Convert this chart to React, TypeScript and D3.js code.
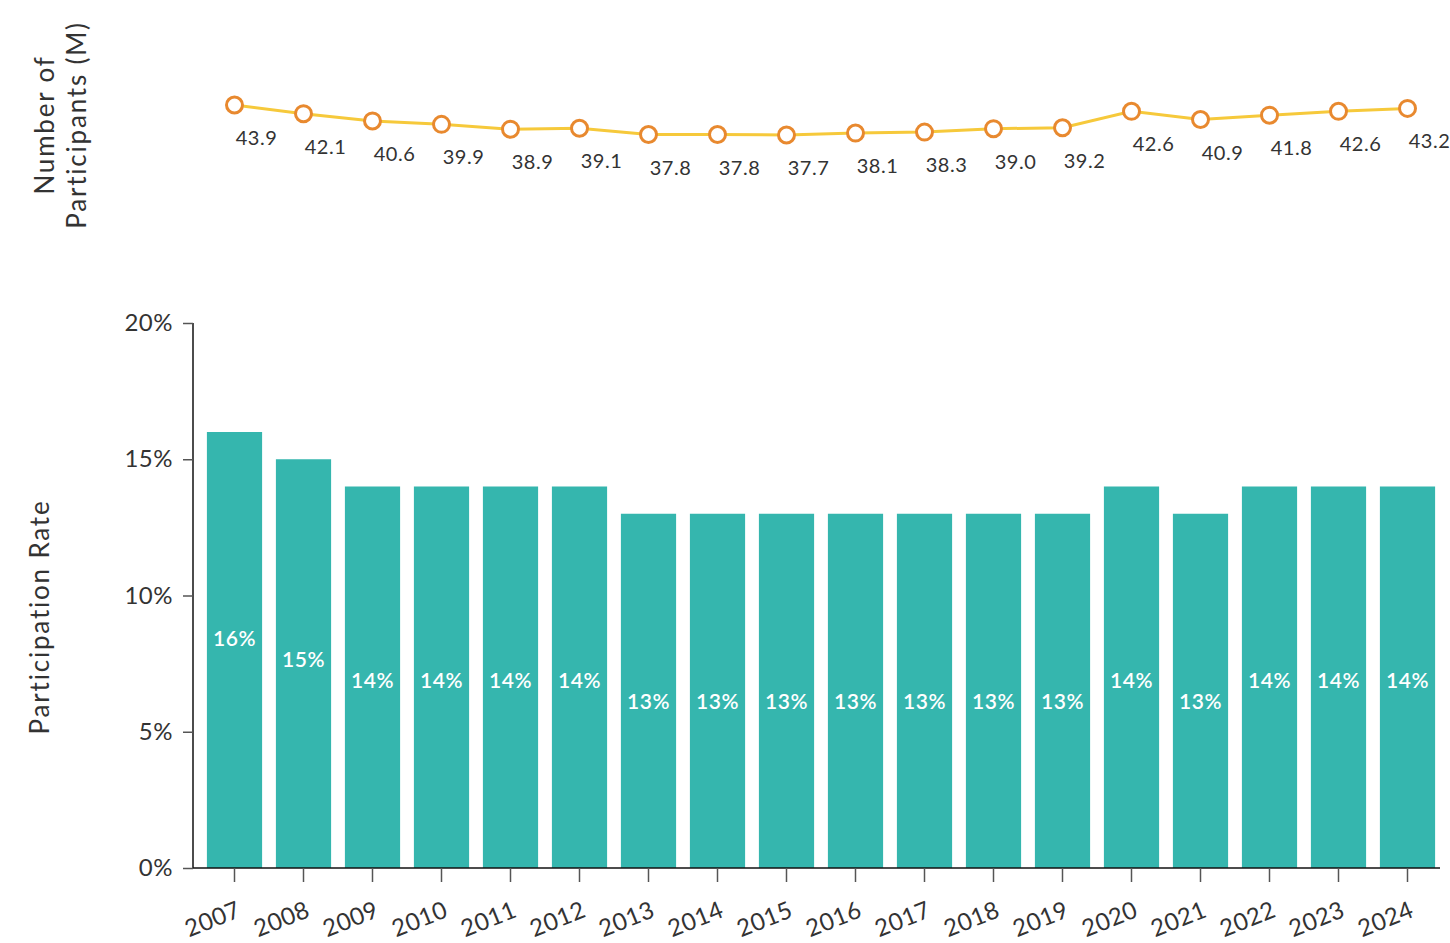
import React, { useRef, useEffect } from 'react';
import * as d3 from 'd3';

const years = ['2007', '2008', '2009', '2010', '2011', '2012', '2013', '2014', '2015', '2016', '2017', '2018', '2019', '2020', '2021', '2022', '2023', '2024'];
const participants = [43.9, 42.1, 40.6, 39.9, 38.9, 39.1, 37.8, 37.8, 37.7, 38.1, 38.3, 39.0, 39.2, 42.6, 40.9, 41.8, 42.6, 43.2];
const rates = [16, 15, 14, 14, 14, 14, 13, 13, 13, 13, 13, 13, 13, 14, 13, 14, 14, 14];
const rateTicks = [0, 5, 10, 15, 20];

const FONT = 'Lato, "Noto Sans", sans-serif';
const TEXT = '#333';

const App = () => {
  const svgRef = useRef<SVGSVGElement>(null);

  useEffect(() => {
    const svg = d3.select(svgRef.current);
    svg.selectAll('*').remove();

    const width = 1450;
    const height = 943;
    const barTop = 323;
    const barBottom = 868;
    const axisX = 193;

    // shared x positions for bars and line points
    const x = d3.scaleBand()
      .domain(years)
      .range([200, 1442])
      .paddingInner(0.2)
      .paddingOuter(0.1);

    const y = d3.scaleLinear().domain([0, 20]).range([barBottom, barTop]);

    const yLine = d3.scaleLinear()
      .domain([d3.min(participants), d3.max(participants)])
      .range([135, 105]);

    // Bars
    svg.append('g')
      .selectAll('rect')
      .data(rates)
      .enter()
      .append('rect')
        .attr('x', (d, i) => x(years[i]))
        .attr('y', d => y(d))
        .attr('width', x.bandwidth())
        .attr('height', d => barBottom - y(d))
        .attr('fill', '#35b6ae');

    // Bar labels (sit a little above middle on taller bars)
    svg.append('g')
      .selectAll('text')
      .data(rates)
      .enter()
      .append('text')
        .attr('x', (d, i) => x(years[i]) + x.bandwidth() / 2)
        .attr('y', d => (y(d) + barBottom) / 2 + (14.2 - d) * 7.5 + 4)
        .attr('text-anchor', 'middle')
        .attr('dominant-baseline', 'middle')
        .attr('fill', '#fff')
        .style('font-family', FONT)
        .style('font-size', '21px')
        .style('font-weight', 600)
        .style('letter-spacing', '0.5px')
        .text(d => `${d}%`);

    // Y axis
    const yAxis = svg.append('g')
      .attr('transform', `translate(${axisX},0)`)
      .call(d3.axisLeft(y).tickValues(rateTicks).tickFormat(d => `${d}%`).tickSize(10).tickPadding(10));
    yAxis.select('.domain').attr('stroke', '#111').attr('stroke-width', 1.5).attr('d', `M0,${barTop}V${barBottom}`);
    yAxis.selectAll('.tick line').attr('stroke', '#555').attr('stroke-width', 1.5);
    yAxis.selectAll('text')
      .attr('fill', TEXT)
      .style('font-family', FONT)
      .style('font-size', '24px')
      .style('letter-spacing', '0.5px');

    // X axis
    const xAxis = svg.append('g')
      .attr('transform', `translate(0,${barBottom})`)
      .call(d3.axisBottom(x).tickSize(14).tickSizeOuter(0));
    xAxis.select('.domain').attr('stroke', '#111').attr('stroke-width', 1.5).attr('d', `M${axisX},0H1440`);
    xAxis.selectAll('.tick line').attr('stroke', '#555').attr('stroke-width', 1.5);
    xAxis.selectAll('text')
      .attr('fill', TEXT)
      .attr('text-anchor', 'end')
      .attr('dy', null)
      .attr('y', null)
      .attr('transform', 'translate(8,48) rotate(-22)')
      .style('font-family', FONT)
      .style('font-size', '24px')
      .style('letter-spacing', '0.5px');

    // Line
    const line = d3.line<number>()
      .x((d, i) => x(years[i]) + x.bandwidth() / 2)
      .y(d => yLine(d));

    svg.append('path')
      .datum(participants)
      .attr('d', line)
      .attr('fill', 'none')
      .attr('stroke', '#f6c93b')
      .attr('stroke-width', 3);

    svg.append('g')
      .selectAll('circle')
      .data(participants)
      .enter()
      .append('circle')
        .attr('cx', (d, i) => x(years[i]) + x.bandwidth() / 2)
        .attr('cy', d => yLine(d))
        .attr('r', 8)
        .attr('fill', '#fff')
        .attr('stroke', '#e8892f')
        .attr('stroke-width', 3);

    svg.append('g')
      .selectAll('text')
      .data(participants)
      .enter()
      .append('text')
        .attr('x', (d, i) => x(years[i]) + x.bandwidth() / 2 + 22)
        .attr('y', d => yLine(d) + 35)
        .attr('text-anchor', 'middle')
        .attr('dominant-baseline', 'middle')
        .attr('fill', TEXT)
        .style('font-family', FONT)
        .style('font-size', '20px')
        .style('letter-spacing', '0.5px')
        .text(d => d.toFixed(1));

    // Axis titles
    const t1 = svg.append('text')
      .attr('transform', 'translate(45,125) rotate(-90)')
      .attr('text-anchor', 'middle')
      .attr('fill', TEXT)
      .style('font-family', FONT)
      .style('font-size', '26px')
      .style('letter-spacing', '1.8px');
    t1.append('tspan').attr('x', 0).attr('dy', '0.35em').text('Number of');
    t1.append('tspan').attr('x', 0).attr('dy', 32).text('Participants (M)');

    svg.append('text')
      .attr('transform', 'translate(42,617) rotate(-90)')
      .attr('text-anchor', 'middle')
      .attr('dominant-baseline', 'middle')
      .attr('fill', TEXT)
      .style('font-family', FONT)
      .style('font-size', '26px')
      .style('letter-spacing', '1.8px')
      .text('Participation Rate');

    svg.attr('viewBox', `0 0 ${width} ${height}`);
  }, []);

  return (
    <svg
      ref={svgRef}
      width={1450}
      height={943}
      style={{ position: 'absolute', left: 0, top: 0, background: '#fff' }}
    />
  );
};

export default App;
